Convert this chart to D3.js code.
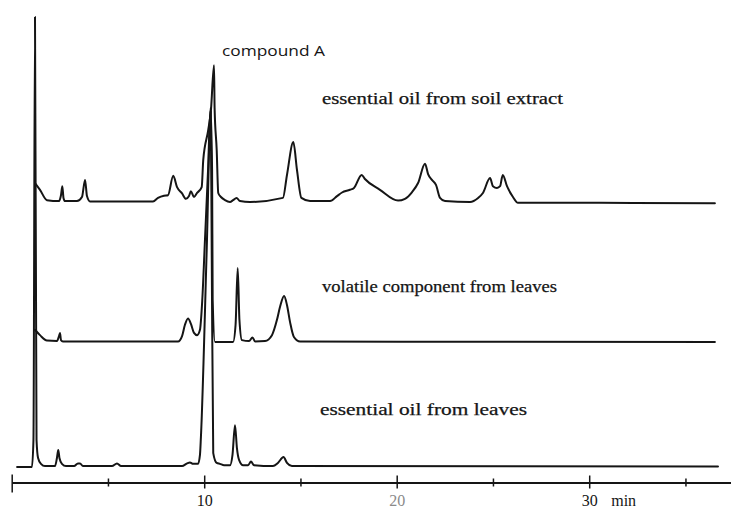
<!DOCTYPE html>
<html><head><meta charset="utf-8">
<script src="https://cdn.jsdelivr.net/npm/d3@7"></script>
<style>body{margin:0;background:#fff}svg{display:block}</style>
</head><body>
<svg id="c" width="731" height="509"></svg>
<script>
// ---- data (retention time in min, detector signal in arbitrary units above each baseline) ----
const traceNames = ["essential oil from soil extract", "volatile component from leaves", "essential oil from leaves"];
const traceOffsets = [59.0, 27.9, 0];
const soilExtract = [[1.21,4.1],[1.47,2.6],[1.83,0.3],[2.46,0.1],[2.56,1.4],[2.63,3.4],[2.69,0.8],[2.77,0.1],[3.39,0.1],[3.65,1.0],[3.81,4.8],[3.91,1.2],[4.07,0],[7.34,0],[7.60,0.8],[7.91,1.3],[8.12,1.4],[8.39,5.7],[8.59,3.2],[8.85,1.8],[9.05,0.6],[9.21,1.2],[9.31,2.3],[9.47,1.0],[9.63,1.9],[9.87,3.2],[9.95,9.2],[10.21,15.9],[10.35,20.3],[10.51,30.3],[10.54,20.8],[10.65,11.4],[10.73,1.9],[10.87,1.0],[11.08,0.3],[11.34,-0.1],[11.50,0.3],[11.68,0.8],[11.86,0.1],[12.38,-0.1],[14.09,0.8],[14.30,5.9],[14.63,13.2],[14.82,7.0],[15.05,0.8],[15.50,0.1],[16.54,0.1],[16.90,1.2],[17.16,2.0],[17.57,2.6],[17.78,3.0],[18.18,5.9],[18.35,5.0],[19.13,2.6],[20.07,0.2],[20.43,0.6],[20.80,2.1],[21.11,4.1],[21.47,8.4],[21.63,6.1],[21.83,4.8],[22.04,3.7],[22.25,0.8],[22.51,0.1],[23.81,-0.1],[24.23,0.8],[24.48,1.9],[24.85,5.2],[25.00,3.4],[25.21,3.0],[25.37,3.4],[25.51,5.9],[25.73,3.4],[26.04,1.0],[26.30,-0.3],[30.56,-0.3],[36.53,-0.4]];
const leafVolatile = [[1.21,2.6],[1.47,1.4],[1.83,0.2],[2.35,0.1],[2.46,1.2],[2.51,1.9],[2.56,0.3],[2.66,0],[8.64,0],[8.85,1.2],[9.00,3.7],[9.16,5.1],[9.31,3.9],[9.47,1.9],[9.63,1.4],[9.78,2.6],[9.90,9.2],[10.04,22.6],[10.20,38.1],[10.33,51.9],[10.41,38.1],[10.44,9.2],[10.56,-0.1],[10.72,-0.1],[11.50,-0.1],[11.63,3.7],[11.74,16.3],[11.83,4.8],[11.96,0.3],[12.33,0.1],[12.51,0.9],[12.64,0],[13.16,0.1],[13.52,1.4],[13.78,4.8],[13.94,7.7],[14.15,10.1],[14.30,8.1],[14.46,4.3],[14.66,1.0],[14.98,0],[36.53,-0.1]];
const leafOil = [[0.28,0],[1.05,0],[1.13,6.0],[1.21,100],[1.29,6.0],[1.37,2.0],[1.52,0.7],[1.73,0.2],[2.25,0.2],[2.35,2.0],[2.42,3.8],[2.48,2.0],[2.61,0.7],[2.82,0.2],[3.24,0.2],[3.44,0.8],[3.55,0.8],[3.70,0.2],[5.21,0.2],[5.47,0.8],[5.68,0.2],[8.85,0.2],[9.11,0.8],[9.26,1.0],[9.42,0.7],[9.68,0.7],[9.78,2.7],[9.83,6.7],[10.13,48.2],[10.34,79.0],[10.39,48.2],[10.47,3.1],[10.65,0.9],[10.82,0.7],[11.03,0.4],[11.34,0.4],[11.47,2.7],[11.60,9.3],[11.70,4.2],[11.81,1.6],[12.02,0.4],[12.28,0.4],[12.43,1.2],[12.59,0.4],[13.57,0.2],[13.83,0.9],[14.12,2.2],[14.30,0.9],[14.56,0.2],[36.69,0.1]];
const traces = [soilExtract, leafVolatile, leafOil];
const peakLabel = "compound A";
const tickValues = [0, 5, 10, 15, 20, 25, 30, 35];
const tickLabels = ["", "", "10", "", "20", "", "30", ""];
const unitLabel = "min";
const timeDomain = [0, 37.4];
const signalDomain = [0, 100];

// ---- drawing ----
const svg = d3.select("#c");
const x = d3.scaleLinear().domain(timeDomain).range([11.7, 731.65]);
const y = d3.scaleLinear().domain(signalDomain).range([467, 17]);
const ink = "#151515";

traces.forEach((tr, i) => {
  const off = traceOffsets[i];
  const line = d3.line().curve(d3.curveMonotoneX).x(d => x(d[0])).y(d => y(d[1] + off));
  svg.append("path").datum(tr).attr("d", line)
    .attr("fill", "none").attr("stroke", ink).attr("stroke-width", 2)
    .attr("stroke-linejoin", "round").attr("stroke-linecap", "round");
});

// axis
const axisY = 482.5;
const axis = d3.axisBottom(x).tickValues(tickValues).tickSizeInner(6).tickSizeOuter(0)
  .tickFormat((d, i) => tickLabels[i]);
const ag = svg.append("g").attr("transform", `translate(0,${axisY})`).call(axis);
ag.select(".domain").attr("stroke", ink).attr("stroke-width", 1.8);
ag.selectAll(".tick line").attr("stroke", ink).attr("stroke-width", 1.5)
  .attr("y1", (d) => d === 0 ? -8 : (d % 10 === 0 ? -7 : -4))
  .attr("y2", (d) => d === 0 ? 10 : (d % 10 === 0 ? 6 : 4));
ag.selectAll(".tick text").attr("y", 23.5).attr("dy", 0)
  .attr("font-family", "'Liberation Serif', serif").attr("font-size", 16)
  .attr("fill", d => d === 20 ? "#8a8a8a" : ink);
svg.append("text").attr("x", x(30) + 22).attr("y", axisY + 23.5)
  .attr("font-family", "'Liberation Serif', serif").attr("font-size", 16).attr("fill", ink)
  .text(unitLabel);

// labels
const labelPos = [[322, 104, 241], [322, 292, 235], [320, 415, 207]];
traceNames.forEach((t, i) => {
  svg.append("text").attr("x", labelPos[i][0]).attr("y", labelPos[i][1])
    .attr("textLength", labelPos[i][2]).attr("lengthAdjust", "spacingAndGlyphs")
    .attr("font-family", "'Liberation Serif', serif").attr("font-size", 16).attr("fill", ink)
    .attr("stroke", ink).attr("stroke-width", 0.25)
    .text(t);
});
svg.append("text").attr("x", 222).attr("y", 56).attr("textLength", 103).attr("lengthAdjust", "spacingAndGlyphs")
  .attr("font-family", "'Open Sans', sans-serif").attr("font-size", 15).attr("fill", ink)
  .text(peakLabel);
</script>
</body></html>
